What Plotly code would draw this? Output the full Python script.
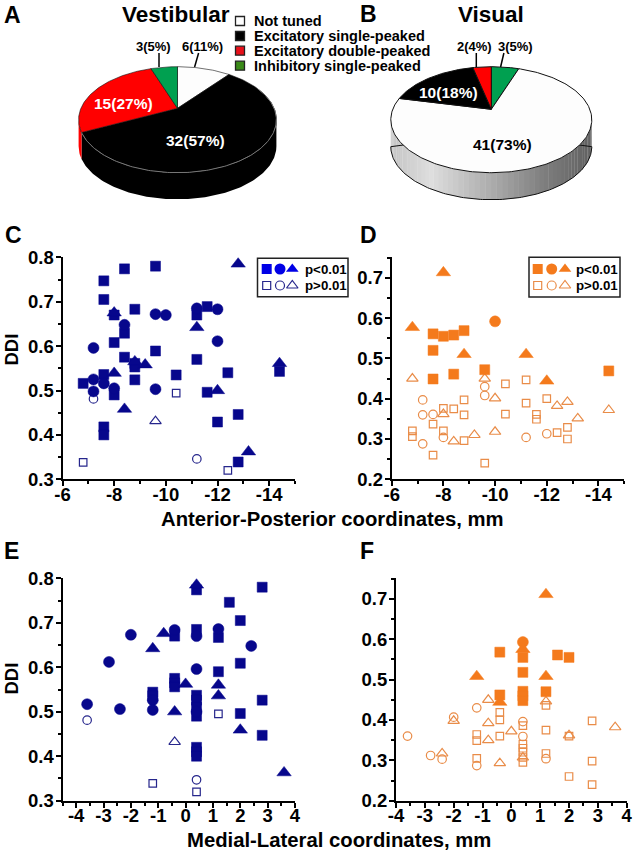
import math
import plotly.graph_objects as go

W, H = 634, 852
FONT = "Liberation Sans"

# ---------- Pie data ----------
pie_labels = ["Not tuned", "Excitatory single-peaked", "Excitatory double-peaked", "Inhibitory single-peaked"]
vestibular_counts = [6, 32, 15, 3]
visual_order = ["Inhibitory single-peaked", "Not tuned", "Excitatory single-peaked", "Excitatory double-peaked"]
visual_values = [3, 41, 10, 2]
vestibular_order = ["Not tuned", "Excitatory single-peaked", "Excitatory double-peaked", "Inhibitory single-peaked"]

# ---------- Panel C: DDI vs anterior-posterior, vestibular ----------
c_sq_f_x = [-6.8,-7.6,-7.6,-7.6,-7.6,-7.6,-8,-8,-8,-8.4,-8.4,-8.4,-8.8,-8.8,-8.8,-8.8,-9.6,-9.6,-10.4,-11.2,-11.2,-11.6,-11.6,-12,-12.4,-12.8,-12.8,-14.4]
c_sq_f_y = [.516,.747,.705,.536,.418,.40,.608,.67,.49,.774,.629,.575,.683,.561,.553,.524,.78,.589,.535,.67,.57,.689,.496,.429,.54,.446,.339,.543]
c_ci_f_x = [-7.2,-7.2,-7.2,-7.6,-8,-8.4,-9.6,-10,-9.6,-11.2,-12,-12]
c_ci_f_y = [.596,.525,.498,.516,.505,.648,.672,.67,.503,.685,.683,.611]
c_tr_f_x = [-8,-8,-8.4,-8.8,-9.2,-11.2,-12,-12.8,-13.2,-14.4]
c_tr_f_y = [.675,.539,.458,.565,.558,.642,.50,.785,.362,.561]
c_sq_o_x = [-6.8,-10.4,-12.4]
c_sq_o_y = [.338,.494,.32]
c_ci_o_x = [-7.2,-11.2]
c_ci_o_y = [.481,.346]
c_tr_o_x = [-9.6]
c_tr_o_y = [.431]

# ---------- Panel D: DDI vs anterior-posterior, visual ----------
d_sq_f_x = [-7.6,-7.6,-7.6,-8,-8.4,-8.4,-8.8,-9.6,-14.4]
d_sq_f_y = [.561,.52,.449,.555,.558,.461,.569,.472,.469]
d_ci_f_x = [-10]
d_ci_f_y = [.592]
d_tr_f_x = [-6.8,-8,-8.8,-11.2,-12]
d_tr_f_y = [.577,.713,.51,.51,.444]
d_sq_o_x = [-6.8,-6.8,-7.6,-7.6,-8,-8,-8.4,-8.8,-8.8,-8.8,-9.6,-10.4,-10.4,-11.2,-11.2,-11.6,-11.6,-12,-12.4,-12.8,-12.8]
d_sq_o_y = [.32,.306,.337,.26,.376,.32,.375,.397,.36,.296,.24,.437,.362,.447,.389,.361,.349,.40,.316,.329,.30]
d_ci_o_x = [-7.2,-7.2,-7.2,-7.6,-8,-9.6,-9.6,-11.2,-12]
d_ci_o_y = [.397,.36,.288,.361,.304,.43,.408,.304,.313]
d_tr_o_x = [-6.8,-8,-8.4,-9.2,-9.6,-10,-10,-12.4,-12.8,-13.2,-14.4]
d_tr_o_y = [.45,.362,.294,.31,.45,.401,.318,.382,.392,.351,.372]

# ---------- Panel E: DDI vs medial-lateral, vestibular ----------
e_sq_f_x = [2.8,.4,1.6,2,.4,-.4,1.2,2,1.2,-.4,-.4,-.4,-1.2,.4,-1.2,.4,2.8,.4,2,.4,2.8,.4,.4,.4]
e_sq_f_y = [.78,.774,.746,.705,.685,.67,.667,.609,.59,.575,.565,.556,.544,.537,.536,.526,.526,.51,.496,.49,.447,.42,.41,.40]
e_ci_f_x = [-3.6,-2.8,-2.4,-2,-1.2,-1.2,-.4,.4,.4,.4,1.2,2.4]
e_ci_f_y = [.517,.612,.506,.673,.526,.504,.684,.67,.596,.50,.686,.648]
e_tr_f_x = [-1.2,-.8,-.4,0,.4,1.2,1.2,2,3.6]
e_tr_f_y = [.642,.676,.50,.562,.785,.56,.536,.459,.363]
e_sq_o_x = [-1.2,.4,1.2]
e_sq_o_y = [.339,.32,.495]
e_ci_o_x = [-3.6,.4]
e_ci_o_y = [.481,.347]
e_tr_o_x = [-.4]
e_tr_o_y = [.432]

# ---------- Panel F: DDI vs medial-lateral, visual ----------
f_sq_f_x = [-.4,-.4,.4,.4,.4,.4,.4,1.2,1.6,2]
f_sq_f_y = [.568,.462,.555,.518,.471,.46,.448,.47,.561,.555]
f_ci_f_x = [.4]
f_ci_f_y = [.593]
f_tr_f_x = [-1.2,-.4,.4,1.2,1.2]
f_tr_f_y = [.508,.444,.575,.711,.508]
f_sq_o_x = [-1.2,-1.2,-1.2,-.4,-.4,-.4,.4,.4,.4,.4,.4,.4,1.2,1.2,1.2,2,2,2.8,2.8,2.8]
f_sq_o_y = [.364,.349,.305,.419,.40,.36,.386,.34,.33,.32,.307,.295,.436,.375,.317,.36,.26,.398,.298,.24]
f_ci_o_x = [-3.6,-2.8,-2.4,-2,-1.2,-1.2,.4,.4,1.2]
f_ci_o_y = [.36,.312,.303,.407,.43,.287,.396,.359,.304]
f_tr_o_x = [-2.4,-2,-.8,-.8,-.8,-.4,0,.4,1.2,2,3.6]
f_tr_o_y = [.317,.398,.45,.392,.35,.293,.372,.307,.446,.362,.382]

ap_ticks = [-6, -8, -10, -12, -14]
ap_tick_labels = ["-6", "-8", "-10", "-12", "-14"]
ap_minor = [-7, -9, -11, -13, -15]
ml_ticks = [-4, -3, -2, -1, 0, 1, 2, 3, 4]
ml_tick_labels = ["-4", "-3", "-2", "-1", "0", "1", "2", "3", "4"]
ml_minor = [-4.5, -3.5, -2.5, -1.5, -.5, .5, 1.5, 2.5, 3.5]
vest_y_ticks = [.3, .4, .5, .6, .7, .8]
vest_y_labels = ["0.3", "0.4", "0.5", "0.6", "0.7", "0.8"]
vest_y_minor = [.35, .45, .55, .65, .75]
vis_y_ticks = [.2, .3, .4, .5, .6, .7]
vis_y_labels = ["0.2", "0.3", "0.4", "0.5", "0.6", "0.7"]
vis_y_minor = [.25, .35, .45, .55, .65, .75]

NAVY, BLUE, NAVY_O = "#07078c", "#0000e6", "#26268c"
ORANGE, ORANGE_O = "#f47a1c", "#e98c48"
SLICE_COLORS = {"Not tuned": "#fdfdfd", "Excitatory single-peaked": "#000000",
                "Excitatory double-peaked": "#ff0000", "Inhibitory single-peaked": "#00a050"}
SWATCH_COLORS = ["#ffffff", "#000000", "#e8101a", "#3a8a18"]
EDGE = "#111111"

fig = go.Figure()


def px_x(x): return x / W
def px_y(y): return 1 - y / H


# ---- axes for the four scatter panels ----
def add_axes(n, left, right, top, bottom, xrange, yrange, xt, xl, xm, yt, yl, ym):
    fig.layout[f"xaxis{n}"] = dict(
        domain=[px_x(left), px_x(right)], range=xrange, tickmode="array", tickvals=xt, ticktext=xl,
        showgrid=False, zeroline=False, showline=True, linecolor="black", linewidth=2,
        ticks="outside", ticklen=5, tickwidth=2, tickcolor="black", automargin=False, ticklabelstandoff=-8,
        minor=dict(tickmode="array", tickvals=xm, ticks="outside", ticklen=3, tickwidth=1.5, tickcolor="black", showgrid=False),
        tickfont=dict(family=FONT, size=18.5, color="black", weight="bold"),
        anchor=f"y{n}", fixedrange=True)
    fig.layout[f"yaxis{n}"] = dict(
        domain=[px_y(bottom), px_y(top)], range=yrange, tickmode="array", tickvals=yt, ticktext=yl,
        showgrid=False, zeroline=False, showline=True, linecolor="black", linewidth=2,
        ticks="outside", ticklen=5, tickwidth=2, tickcolor="black", automargin=False, ticklabelstandoff=-2,
        minor=dict(tickmode="array", tickvals=ym, ticks="outside", ticklen=3, tickwidth=1.5, tickcolor="black", showgrid=False),
        tickfont=dict(family=FONT, size=18.5, color="black", weight="bold"),
        anchor=f"x{n}", fixedrange=True)


add_axes(1, 62.5, 295, 257.3, 479.3, [-6, -15], [.3, .8], ap_ticks, ap_tick_labels, ap_minor, vest_y_ticks, vest_y_labels, vest_y_minor)
add_axes(2, 391.7, 624.3, 257.3, 479.3, [-6, -15], [.2, .751], ap_ticks, ap_tick_labels, ap_minor, vis_y_ticks, vis_y_labels, vis_y_minor)
add_axes(3, 62.5, 295, 578.3, 800.7, [-4.5, 4], [.3, .8], ml_ticks, ml_tick_labels, ml_minor, vest_y_ticks, vest_y_labels, vest_y_minor)
add_axes(4, 396, 626.7, 578.3, 800.7, [-4, 4], [.2, .751], ml_ticks, ml_tick_labels, ml_minor, vis_y_ticks, vis_y_labels, vis_y_minor)


def scatter(n, x, y, symbol, size, fill, line, lw):
    fig.add_trace(go.Scatter(
        x=x, y=y, mode="markers", xaxis=f"x{n}", yaxis=f"y{n}", cliponaxis=False, showlegend=False,
        marker=dict(symbol=symbol, size=size, color=fill, line=dict(color=line, width=lw))))


def panel(n, col, col_o, d):
    sf_x, sf_y, cf_x, cf_y, tf_x, tf_y, so_x, so_y, co_x, co_y, to_x, to_y = d
    scatter(n, so_x, so_y, "square", 7.5, "rgba(0,0,0,0)", col_o, 1.2)
    scatter(n, co_x, co_y, "circle", 8.5, "rgba(0,0,0,0)", col_o, 1.2)
    scatter(n, to_x, to_y, "triangle-up", 10, "rgba(0,0,0,0)", col_o, 1.2)
    scatter(n, sf_x, sf_y, "square", 10, col, col, .5)
    scatter(n, cf_x, cf_y, "circle", 11, col, col, .5)
    scatter(n, tf_x, tf_y, "triangle-up", 12.5, col, col, .5)


panel(1, NAVY, NAVY_O, (c_sq_f_x, c_sq_f_y, c_ci_f_x, c_ci_f_y, c_tr_f_x, c_tr_f_y, c_sq_o_x, c_sq_o_y, c_ci_o_x, c_ci_o_y, c_tr_o_x, c_tr_o_y))
panel(2, ORANGE, ORANGE_O, (d_sq_f_x, d_sq_f_y, d_ci_f_x, d_ci_f_y, d_tr_f_x, d_tr_f_y, d_sq_o_x, d_sq_o_y, d_ci_o_x, d_ci_o_y, d_tr_o_x, d_tr_o_y))
panel(3, NAVY, NAVY_O, (e_sq_f_x, e_sq_f_y, e_ci_f_x, e_ci_f_y, e_tr_f_x, e_tr_f_y, e_sq_o_x, e_sq_o_y, e_ci_o_x, e_ci_o_y, e_tr_o_x, e_tr_o_y))
panel(4, ORANGE, ORANGE_O, (f_sq_f_x, f_sq_f_y, f_ci_f_x, f_ci_f_y, f_tr_f_x, f_tr_f_y, f_sq_o_x, f_sq_o_y, f_ci_o_x, f_ci_o_y, f_tr_o_x, f_tr_o_y))

# ---- overlay axes covering the page, for tilted pies and legend marks ----
fig.layout["xaxis5"] = dict(domain=[0, 1], range=[0, W], visible=False, fixedrange=True, anchor="y5", automargin=False)
fig.layout["yaxis5"] = dict(domain=[0, 1], range=[H, 0], visible=False, fixedrange=True, anchor="x5", automargin=False)


class TiltedPie:
    """Projects a flat unit-circle pie into a perspective view."""
    def __init__(self, cx, cy, rx, up, down, depth):
        self.cx, self.cy, self.depth = cx, cy, depth
        self.b = (down - up) / (down + up)
        self.a = up * (1 + self.b)
        self.c = rx * math.sqrt(1 - self.b ** 2)

    def pt(self, theta, r=1.0):
        u, v = r * math.sin(theta), r * math.cos(theta)
        den = 1 + self.b * v
        return self.cx + self.c * u / den, self.cy - self.a * v / den

    def arc(self, t0, t1, n=None):
        n = n or max(2, int(abs(t1 - t0) / 0.02))
        return [self.pt(t0 + (t1 - t0) * i / n) for i in range(n + 1)]

    def visible_range(self):
        t = math.acos(-self.b)
        return t, 2 * math.pi - t


def poly(points, fill, line=None, lw=0.0):
    fig.add_trace(go.Scatter(
        x=[p[0] for p in points], y=[p[1] for p in points], mode="lines", fill="toself", fillcolor=fill,
        line=dict(color=line or fill, width=lw if line else 0), xaxis="x5", yaxis="y5", showlegend=False, hoverinfo="skip"))


def path(points, color, lw):
    fig.add_trace(go.Scatter(
        x=[p[0] for p in points], y=[p[1] for p in points], mode="lines",
        line=dict(color=color, width=lw), xaxis="x5", yaxis="y5", showlegend=False, hoverinfo="skip"))


def wall(p, t0, t1, color):
    top = p.arc(t0, t1)
    bot = [(x, y + p.depth) for x, y in top]
    poly(top + bot[::-1], color)


def slices(values, order):
    total = sum(values)
    out, t = [], 0.0
    for v, name in zip(values, order):
        t2 = t + 2 * math.pi * v / total
        out.append((name, t, t2))
        t = t2
    return out


# Vestibular pie
pa = TiltedPie(177.5, 108.3, 98.9, 41.6, 64.4, 26.6)
sa = slices(vestibular_counts, vestibular_order)
lo, hi = pa.visible_range()
for name, t0, t1 in sa:
    a, b = max(t0, lo), min(t1, hi)
    if b > a:
        wall(pa, a, b, SLICE_COLORS[name])
for name, t0, t1 in sa:
    poly([(pa.cx, pa.cy)] + pa.arc(t0, t1) + [(pa.cx, pa.cy)], SLICE_COLORS[name], EDGE, .6)
black = sa[1]
path(pa.arc(black[1] + .45, black[2]), "#777777", 1)

# Visual pie
pb = TiltedPie(491.3, 109.3, 100.5, 42.6, 63.4, 27)
sb = slices(visual_values, visual_order)
gray_stops = [(0, 196), (.2, 222), (.5, 172), (.75, 128), (1, 96)]


def gray(t):
    for (t0, g0), (t1, g1) in zip(gray_stops, gray_stops[1:]):
        if t <= t1:
            g = round(g0 + (g1 - g0) * (t - t0) / (t1 - t0))
            return f"rgb({g},{g},{g})"
    g = gray_stops[-1][1]
    return f"rgb({g},{g},{g})"


lo, hi = pb.visible_range()
seg = 60
for i in range(seg):
    a = lo + (hi - lo) * i / seg
    b = lo + (hi - lo) * (i + 1) / seg + .004
    xm = pb.pt((a + b) / 2)[0]
    wall(pb, a, b, gray((pb.pt(hi)[0] - xm) / (pb.pt(hi)[0] - pb.pt(lo)[0])))
lower = [(x, y + pb.depth) for x, y in pb.arc(lo, hi)]
path([pb.pt(hi)] + lower + [pb.pt(lo)], EDGE, 1)
for name, t0, t1 in sb:
    poly([(pb.cx, pb.cy)] + pb.arc(t0, t1) + [(pb.cx, pb.cy)], SLICE_COLORS[name], EDGE, 1)

# Leader lines
leader_lines = [((159, 53), (159, 67)), ((198.6, 53), (194.6, 67)), ((476.3, 53), (476.3, 67)), ((503.9, 53), (500.6, 67))]
for a, b in leader_lines:
    path([a, b], "black", 1.5)


def marks(xs, y, col, line, sizes, lw):
    for x, sym, sz in zip(xs, ["square", "circle", "triangle-up"], sizes):
        fig.add_trace(go.Scatter(
            x=[x], y=[y], mode="markers", xaxis="x5", yaxis="y5", showlegend=False,
            marker=dict(symbol=sym, size=sz, color=col, line=dict(color=line, width=lw))))


marks([266.7, 280, 292.3], 269, BLUE, BLUE, [10, 11, 11], 0)
marks([266.7, 280, 292.3], 285.5, "rgba(0,0,0,0)", NAVY_O, [8, 9, 10], 1.2)
marks([537.7, 551.7, 565], 269, ORANGE, ORANGE, [10, 11, 11], 0)
marks([537.7, 551.7, 565], 285.5, "rgba(0,0,0,0)", ORANGE_O, [8, 9, 10], 1.2)

# Legend swatches for the pies
legend_rows = [21, 36, 50.7, 65.7]
shapes = []
for y, col in zip(legend_rows, SWATCH_COLORS):
    shapes.append(dict(type="rect", xref="paper", yref="paper", layer="above",
                       x0=px_x(235.5), x1=px_x(244.5), y0=px_y(y + 4.5), y1=px_y(y - 4.5),
                       fillcolor=col, line=dict(color="#222222", width=1.3)))
for x0, x1, y0, y1 in [(257.5, 348, 258.3, 296.7), (529, 620, 257.3, 297)]:
    shapes.append(dict(type="rect", xref="paper", yref="paper", layer="below",
                       x0=px_x(x0), x1=px_x(x1), y0=px_y(y1), y1=px_y(y0),
                       fillcolor="white", line=dict(color="#222222", width=1.5)))
fig.update_layout(shapes=shapes)


def text(x, y, s, size, color="black", anchor="center", angle=0, bold=True):
    fig.add_annotation(
        x=px_x(x), y=px_y(y), xref="paper", yref="paper", text=f"<b>{s}</b>" if bold else s, showarrow=False,
        xanchor=anchor, yanchor="middle", textangle=angle, align="left",
        font=dict(family=FONT, size=size, color=color))


for s, x, y in [("A", 12, 15), ("B", 368, 14), ("C", 13, 235), ("D", 368, 235), ("E", 11, 551), ("F", 367, 551)]:
    text(x, y, s, 23)
text(175.5, 14, "Vestibular", 22.5)
text(490.5, 14, "Visual", 22.5)
for s, y in zip(pie_labels, legend_rows):
    text(252, y, s, 14.5, anchor="left")
for s, x, y, c, sz in [("3(5%)", 153, 47, "black", 13), ("6(11%)", 202.7, 47, "black", 13),
                       ("2(4%)", 474, 47, "black", 13), ("3(5%)", 515.6, 47, "black", 13),
                       ("15(27%)", 123.6, 103, "white", 15.5), ("32(57%)", 195.8, 140, "white", 15.5),
                       ("10(18%)", 448, 92, "white", 15.5), ("41(73%)", 502.6, 145, "black", 15.5)]:
    text(x, y, s, sz, c)
for x, y, s in [(303, 269, "p&lt;0.01"), (303, 285.5, "p&gt;0.01"), (574, 269, "p&lt;0.01"), (574, 285.5, "p&gt;0.01")]:
    text(x, y, s, 13.3, anchor="left")
text(10.5, 350, "DDI", 18.5, angle=-90)
text(10.5, 679, "DDI", 18.5, angle=-90)
text(333, 519, "Anterior-Posterior coordinates, mm", 20.3)
text(339, 840, "Medial-Lateral coordinates, mm", 20.3)

fig.update_layout(width=W, height=H, margin=dict(l=0, r=0, t=0, b=0), paper_bgcolor="white",
                  plot_bgcolor="rgba(0,0,0,0)", showlegend=False, hovermode=False,
                  font=dict(family=FONT))
fig.write_html("out.html", config=dict(displayModeBar=False),
               post_script="document.body.style.margin='0';document.documentElement.style.overflow='hidden';")
